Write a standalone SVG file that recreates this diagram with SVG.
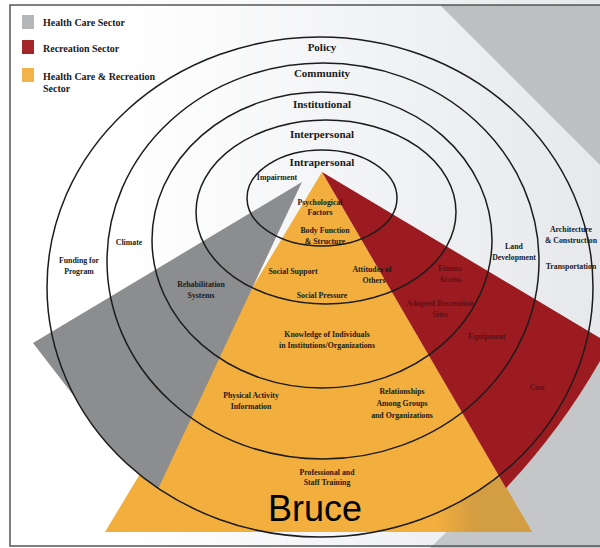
<svg xmlns="http://www.w3.org/2000/svg" width="600" height="548" viewBox="0 0 600 548">
<defs>
<linearGradient id="bg" x1="0" y1="0" x2="1" y2="0">
<stop offset="0.2" stop-color="#ffffff"/>
<stop offset="1" stop-color="#e6e8eb"/>
</linearGradient>
<linearGradient id="dk" gradientUnits="userSpaceOnUse" x1="435" y1="0" x2="475" y2="0">
<stop offset="0" stop-color="#d39d42" stop-opacity="0"/>
<stop offset="1" stop-color="#d39d42" stop-opacity="1"/>
</linearGradient>
<style>
.ring{fill:none;stroke:#1c1c1c;stroke-width:1.5}
.lvl{font-family:"Liberation Serif",serif;font-weight:bold;font-size:11px;fill:#1a1a1a;text-anchor:middle}
.sm{font-family:"Liberation Serif",serif;font-weight:bold;font-size:7.8px;fill:#1a1a1a;text-anchor:middle}
.smr{font-family:"Liberation Serif",serif;font-weight:bold;font-size:7.8px;fill:#5e1014;text-anchor:middle}
.lg{font-family:"Liberation Serif",serif;font-weight:bold;font-size:10px;fill:#1a1a1a}
</style>
</defs>
<rect x="0" y="0" width="600" height="548" fill="url(#bg)"/>
<polygon points="440,5 605,5 605,170" fill="#bdbfc1"/>
<polygon points="430,548 605,548 605,330 500,480" fill="#c4c6c8"/>
<rect x="10" y="5" width="600" height="541" fill="none" stroke="#555" stroke-width="1.5"/>

<g id="legend">
<rect x="22" y="15" width="12" height="14" fill="#b5b6b8"/>
<text class="lg" x="43" y="26">Health Care Sector</text>
<rect x="22" y="40" width="12" height="14" fill="#a3262a"/>
<text class="lg" x="43" y="52">Recreation Sector</text>
<rect x="22" y="68" width="12" height="14" fill="#f2b34a"/>
<text class="lg" x="43" y="80">Health Care &amp; Recreation</text>
<text class="lg" x="43" y="92">Sector</text>
</g>

<g id="sectors">
<path id="orange" d="M322,172 L532,532 L105,532 Z" fill="#f2af3d"/>
<path d="M499,475 L532,532 L435,532 L435,514 A273,250 0 0,0 499,475 Z" fill="url(#dk)"/>
<path id="gray" d="M302,182 L33,343 L77,400 A273,250 0 0,0 158,489 Z" fill="#8c8d8f"/>
<path id="red" d="M322,172 L605,341 L605,352 Q565,425 506,488 Z" fill="#9b1b20"/>
</g>

<g id="rings">
<ellipse class="ring" cx="322" cy="198" rx="75" ry="48"/>
<ellipse class="ring" cx="326" cy="212" rx="130" ry="92"/>
<ellipse class="ring" cx="322" cy="240" rx="170" ry="148"/>
<ellipse class="ring" cx="323" cy="261" rx="216" ry="198"/>
<ellipse class="ring" cx="320" cy="287" rx="273" ry="250"/>
</g>

<g id="connectors"></g>

<g id="levels">
<text class="lvl" x="322" y="51">Policy</text>
<text class="lvl" x="322" y="77">Community</text>
<text class="lvl" x="322" y="108">Institutional</text>
<text class="lvl" x="322" y="138">Interpersonal</text>
<text class="lvl" x="322" y="166">Intrapersonal</text>
</g>

<g id="n-impairment"><text class="sm" x="277" y="180">Impairment</text></g>
<g id="n-psych"><text class="sm" x="320" y="205">Psychological</text><text class="sm" x="320" y="215">Factors</text></g>
<g id="n-body"><text class="sm" x="325" y="233">Body Function</text><text class="sm" x="325" y="244">&amp; Structure</text></g>
<g id="n-support"><text class="sm" x="293" y="274">Social Support</text></g>
<g id="n-attitudes"><text class="sm" x="372" y="272">Attitudes of</text><text class="sm" x="374" y="283">Others</text></g>
<g id="n-pressure"><text class="sm" x="322" y="298">Social Pressure</text></g>
<g id="n-knowledge"><text class="sm" x="327" y="337">Knowledge of Individuals</text><text class="sm" x="327" y="348">in Institutions/Organizations</text></g>
<g id="n-info"><text class="sm" x="251" y="398">Physical Activity</text><text class="sm" x="251" y="409">Information</text></g>
<g id="n-relations"><text class="sm" x="402" y="394">Relationships</text><text class="sm" x="402" y="406">Among Groups</text><text class="sm" x="402" y="418">and Organizations</text></g>
<g id="n-training"><text class="sm" x="327" y="475">Professional and</text><text class="sm" x="327" y="485">Staff Training</text></g>
<g id="n-funding"><text class="sm" x="79" y="263">Funding for</text><text class="sm" x="79" y="274">Program</text></g>
<g id="n-climate"><text class="sm" x="129" y="245">Climate</text></g>
<g id="n-rehab"><text class="sm" x="201" y="287">Rehabilitation</text><text class="sm" x="201" y="298">Systems</text></g>
<g id="n-land"><text class="sm" x="514" y="249">Land</text><text class="sm" x="514" y="260">Development</text></g>
<g id="n-arch"><text class="sm" x="571" y="232">Architecture</text><text class="sm" x="571" y="243">&amp; Construction</text></g>
<g id="n-transport"><text class="sm" x="571" y="269">Transportation</text></g>
<g id="n-access"><text class="smr" x="450" y="271">Fitness</text><text class="smr" x="450" y="282">Access</text></g>
<g id="n-sites"><text class="smr" x="440" y="306">Adapted Recreation</text><text class="smr" x="440" y="317">Sites</text></g>
<g id="n-equip"><text class="smr" x="487" y="339">Equipment</text></g>
<g id="n-cost"><text class="smr" x="537" y="390">Cost</text></g>

<g id="n-bruce"><text x="268" y="521" font-family="Liberation Sans, Arial, sans-serif" font-size="36" fill="#000">Bruce</text></g>
</svg>
